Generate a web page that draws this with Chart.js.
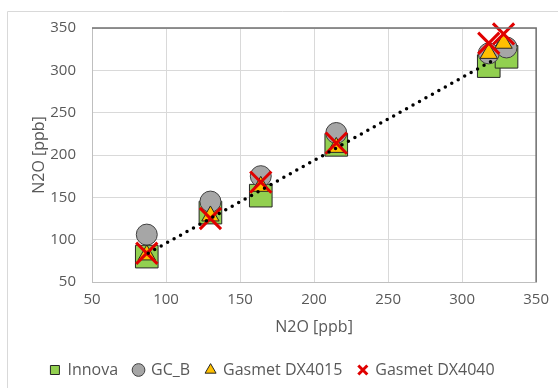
<!DOCTYPE html>
<html>
<head>
<meta charset="utf-8">
<script src="https://cdn.jsdelivr.net/npm/chart.js@4.4.1/dist/chart.umd.min.js"></script>
<style>
  html, body { margin: 0; padding: 0; background: #ffffff; }
  #wrap { width: 558px; height: 388px; position: relative; }
</style>
</head>
<body>
<div id="wrap"><canvas id="chart" width="558" height="388"></canvas></div>
<script>

const xTicks = [50, 100, 150, 200, 250, 300, 350];
const yTicks = [50, 100, 150, 200, 250, 300, 350];

const innovaX = [87, 130, 164, 215, 318, 330];
const innovaY = [80, 132, 152, 212, 305, 316];

const gcbX = [87, 130, 164, 215, 318, 330];
const gcbY = [106, 145, 175, 226, 320, 327];

const dx4015X = [87, 130, 164, 215, 318, 328];
const dx4015Y = [82, 128, 163, 209, 320, 332];

const dx4040X = [87, 130, 164, 215, 318, 328];
const dx4040Y = [84, 125, 168, 214, 332, 343];

const trendX = [88, 322];
const trendY = [84, 313];

function pts(xs, ys) {
  return xs.map((x, i) => ({ x: x, y: ys[i] }));
}

const textColor = "#595959";
const fontFamily = "'Open Sans', 'Liberation Sans', sans-serif";

const framePlugin = {
  id: "frame",
  beforeDraw(chart) {
    const ctx = chart.ctx;
    ctx.save();
    ctx.strokeStyle = "#d9d9d9";
    ctx.lineWidth = 1;
    ctx.beginPath();
    ctx.moveTo(7.5, 388);
    ctx.lineTo(7.5, 11.5);
    ctx.lineTo(558, 11.5);
    ctx.stroke();
    ctx.restore();
  },
  afterDatasetsDraw(chart) {
    // plot area border on top and right
    const a = chart.chartArea;
    const ctx = chart.ctx;
    ctx.save();
    ctx.strokeStyle = "#6f6f6f";
    ctx.lineWidth = 1.5;
    ctx.beginPath();
    ctx.moveTo(a.left, a.top);
    ctx.lineTo(a.right, a.top);
    ctx.lineTo(a.right, a.bottom);
    ctx.stroke();
    ctx.restore();
  }
};

new Chart(document.getElementById("chart"), {
  type: "scatter",
  data: {
    datasets: [
      {
        label: "Innova",
        data: pts(innovaX, innovaY),
        pointStyle: "rect",
        pointRadius: 16,
        pointHoverRadius: 16,
        backgroundColor: "#92d050",
        borderColor: "#262626",
        borderWidth: 1,
        pointBorderWidth: 1,
        order: 5,
        clip: false
      },
      {
        label: "GC_B",
        data: pts(gcbX, gcbY),
        pointStyle: "circle",
        pointRadius: 10.5,
        pointHoverRadius: 10.5,
        backgroundColor: "#a6a6a6",
        borderColor: "#404040",
        borderWidth: 1,
        pointBorderWidth: 1,
        order: 4,
        clip: false
      },
      {
        label: "Gasmet DX4015",
        data: pts(dx4015X, dx4015Y),
        pointStyle: "triangle",
        pointRadius: 10,
        pointHoverRadius: 10,
        backgroundColor: "#ffc000",
        borderColor: "#262626",
        borderWidth: 1,
        pointBorderWidth: 1,
        order: 3,
        clip: false
      },
      {
        label: "Gasmet DX4040",
        data: pts(dx4040X, dx4040Y),
        pointStyle: "crossRot",
        pointRadius: 15,
        pointHoverRadius: 15,
        backgroundColor: "#e00000",
        borderColor: "#e00000",
        borderWidth: 3,
        pointBorderWidth: 3,
        order: 2,
        clip: false
      },
      {
        label: "trend",
        data: pts(trendX, trendY),
        showLine: true,
        pointRadius: 0,
        borderColor: "#000000",
        borderWidth: 3.5,
        borderDash: [0, 7.4],
        borderCapStyle: "round",
        order: 1
      }
    ]
  },
  options: {
    responsive: false,
    animation: false,
    layout: { padding: { left: 7, top: 28, right: 20, bottom: 0 } },
    plugins: {
      tooltip: { enabled: false },
      legend: {
        position: "bottom",
        labels: {
          usePointStyle: true,
          boxHeight: 9,
          boxWidth: 9,
          padding: 16,
          color: textColor,
          font: { family: fontFamily, size: 16 },
          filter: item => item.text !== "trend",
          sort: (a, b) => a.datasetIndex - b.datasetIndex
        }
      }
    },
    scales: {
      x: {
        type: "linear",
        min: 50,
        max: 350,
        afterBuildTicks: scale => { scale.ticks = xTicks.map(v => ({ value: v })); },
        afterFit: scale => { scale.height = 64; },
        grid: { color: "#d9d9d9", drawTicks: false },
        border: { color: "#bfbfbf", width: 1 },
        ticks: {
          padding: 9,
          color: textColor,
          font: { family: fontFamily, size: 15 }
        },
        title: {
          display: true,
          text: "N2O [ppb]",
          color: textColor,
          font: { family: fontFamily, size: 16 },
          padding: { top: 4, bottom: 9 }
        }
      },
      y: {
        type: "linear",
        min: 50,
        max: 350,
        afterBuildTicks: scale => { scale.ticks = yTicks.map(v => ({ value: v })); },
        afterFit: scale => { scale.width = 85; },
        grid: { color: "#d9d9d9", drawTicks: false },
        border: { color: "#bfbfbf", width: 1 },
        ticks: {
          padding: 16,
          color: textColor,
          font: { family: fontFamily, size: 15 }
        },
        title: {
          display: true,
          text: "N2O [ppb]",
          color: textColor,
          font: { family: fontFamily, size: 16 },
          padding: { top: 23, bottom: 4 }
        }
      }
    }
  },
  plugins: [framePlugin]
});

</script>
</body>
</html>
